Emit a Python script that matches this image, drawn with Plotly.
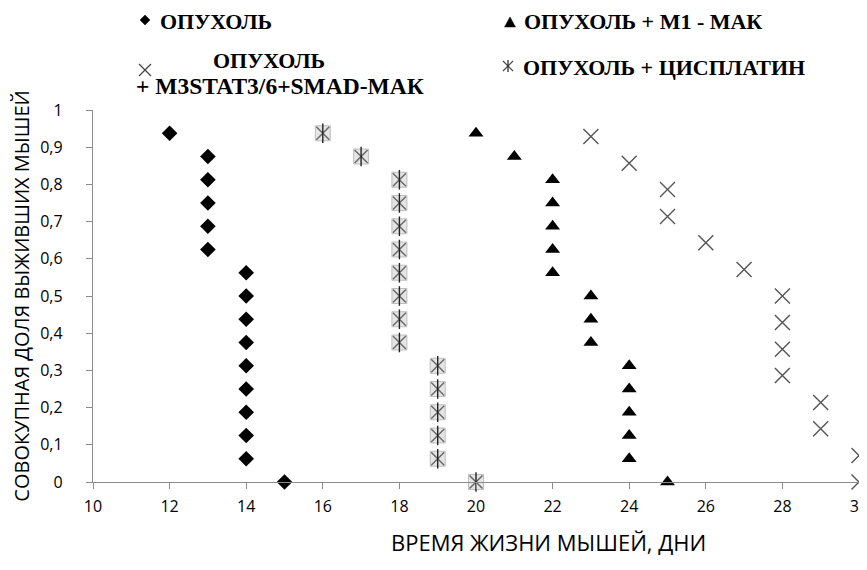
import plotly.graph_objects as go

# ---------------- data ----------------
tumor_days = [12, 13, 13, 13, 13, 13, 14, 14, 14, 14, 14, 14, 14, 14, 14, 15]
tumor_surv = [0.9375, 0.875, 0.8125, 0.75, 0.6875, 0.625, 0.5625, 0.5, 0.4375,
              0.375, 0.3125, 0.25, 0.1875, 0.125, 0.0625, 0.0]

m1_days = [20, 21, 22, 22, 22, 22, 22, 23, 23, 23, 24, 24, 24, 24, 24, 25]
m1_surv = [0.9375, 0.875, 0.8125, 0.75, 0.6875, 0.625, 0.5625, 0.5, 0.4375,
           0.375, 0.3125, 0.25, 0.1875, 0.125, 0.0625, 0.0]

m3_days = [23, 24, 25, 25, 26, 27, 28, 28, 28, 28, 29, 29, 30, 30]
m3_surv = [0.929, 0.857, 0.786, 0.714, 0.643, 0.571, 0.5, 0.429, 0.357,
           0.286, 0.214, 0.143, 0.071, 0.0]

cis_days = [16, 17, 18, 18, 18, 18, 18, 18, 18, 18, 19, 19, 19, 19, 19, 20]
cis_surv = [0.9375, 0.875, 0.8125, 0.75, 0.6875, 0.625, 0.5625, 0.5, 0.4375,
            0.375, 0.3125, 0.25, 0.1875, 0.125, 0.0625, 0.0]

legend_labels = ["ОПУХОЛЬ", "ОПУХОЛЬ + М1 - МАК",
                 "ОПУХОЛЬ", "+ M3STAT3/6+SMAD-МАК", "ОПУХОЛЬ + ЦИСПЛАТИН"]
x_title = "ВРЕМЯ ЖИЗНИ МЫШЕЙ, ДНИ"
y_title = "СОВОКУПНАЯ ДОЛЯ ВЫЖИВШИХ МЫШЕЙ"

# ---------------- geometry (page body has 8px offset) ----------------
OFF = 8
W, H = 867 - OFF, 570 - OFF
ML, MR, MT, MB = 93 - OFF, 8, 110 - OFF, 570 - 482
PW = W - ML - MR
PH = H - MT - MB


def px(xp):
    return (xp - OFF - ML) / PW


def py(yp):
    return (H - MB - (yp - OFF)) / PH


fig = go.Figure()

# Tumor: diamonds
fig.add_trace(go.Scatter(x=tumor_days, y=tumor_surv, mode="markers",
                         marker=dict(symbol="diamond", size=12, color="black"),
                         cliponaxis=False, showlegend=False))
# Cisplatin: boxed asterisk
fig.add_trace(go.Scatter(x=cis_days, y=cis_surv, mode="markers",
                         marker=dict(symbol="square", size=15, color="rgba(218,218,218,0.7)",
                                     line=dict(color="rgba(185,185,185,0.9)", width=1)),
                         cliponaxis=False, showlegend=False))
fig.add_trace(go.Scatter(x=cis_days, y=cis_surv, mode="markers",
                         marker=dict(symbol="x-thin-open", size=13, color="#6a6a6a",
                                     line=dict(color="#6a6a6a", width=1.5)),
                         cliponaxis=False, showlegend=False))
fig.add_trace(go.Scatter(x=cis_days, y=cis_surv, mode="markers",
                         marker=dict(symbol="line-ns-open", size=14, color="#222222",
                                     line=dict(color="#222222", width=1.4)),
                         cliponaxis=False, showlegend=False))
# M1: triangles
fig.add_trace(go.Scatter(x=m1_days, y=m1_surv, mode="markers",
                         marker=dict(symbol="triangle-up", size=13, color="black"),
                         cliponaxis=False, showlegend=False))
# M3: crosses
fig.add_trace(go.Scatter(x=m3_days, y=m3_surv, mode="markers",
                         marker=dict(symbol="x-thin-open", size=15, color="#555555",
                                     line=dict(color="#555555", width=1.4)),
                         cliponaxis=False, showlegend=False))

# ---------------- custom legend ----------------
shapes = []


def path_shape(pts, closed, fill, line_col, lw):
    d = "M " + " L ".join(f"{px(a):.5f},{py(b):.5f}" for a, b in pts)
    if closed:
        d += " Z"
    return dict(type="path", xref="paper", yref="paper", path=d,
                fillcolor=fill if fill else "rgba(0,0,0,0)",
                line=dict(color=line_col, width=lw), layer="above")


# diamond key
cx, cy, r = 145, 20, 5
shapes.append(path_shape([(cx, cy - r), (cx + r, cy), (cx, cy + r), (cx - r, cy)], True,
                         "black", "black", 0.5))
# triangle key
cx, cy = 510, 22
shapes.append(path_shape([(cx - 5.5, cy + 5), (cx + 5.5, cy + 5), (cx, cy - 5)], True,
                         "black", "black", 0.5))
# x key
cx, cy, r = 145, 70, 6
shapes.append(path_shape([(cx - r, cy - r), (cx + r, cy + r)], False, None, "#444444", 1.2))
shapes.append(path_shape([(cx - r, cy + r), (cx + r, cy - r)], False, None, "#444444", 1.2))
# asterisk key
cx, cy, r = 508, 66, 5
shapes.append(path_shape([(cx - r, cy - r), (cx + r, cy + r)], False, None, "#444444", 1.2))
shapes.append(path_shape([(cx - r, cy + r), (cx + r, cy - r)], False, None, "#444444", 1.2))
shapes.append(path_shape([(cx, cy - 6), (cx, cy + 6)], False, None, "#222222", 1.2))

leg_pos = [(158, 21), (522, 21), (211, 61), (134, 86), (521, 67)]
leg_size = [22, 22, 22, 23.5, 22]
annotations = []
for (ax_, ay_), lab, fs in zip(leg_pos, legend_labels, leg_size):
    annotations.append(dict(x=px(ax_), y=py(ay_), xref="paper", yref="paper",
                            text="<b>" + lab + "</b>", xanchor="left", yanchor="middle",
                            showarrow=False,
                            font=dict(family="Liberation Serif", size=fs, color="black")))

annotations.append(dict(x=px(548), y=py(542), xref="paper", yref="paper", text=x_title,
                        showarrow=False, xanchor="center", yanchor="middle",
                        font=dict(family="Open Sans", size=22, color="black")))

axis_col = "#8c8c8c"
fig.update_layout(
    width=W, height=H,
    margin=dict(l=ML, r=MR, t=MT, b=MB, pad=0, autoexpand=False),
    paper_bgcolor="white", plot_bgcolor="white",
    separators=", ",
    xaxis=dict(range=[10, 30], dtick=2, tick0=10, showgrid=False, zeroline=False,
               showline=True, linecolor=axis_col, linewidth=1.3,
               ticks="outside", ticklen=6, tickcolor=axis_col, tickwidth=1.3,
               ticklabelstandoff=4, ticklabeloverflow="allow", automargin=False,
               tickfont=dict(family="Open Sans", size=16, color="black")),
    yaxis=dict(range=[0, 1], dtick=0.1, showgrid=False, zeroline=False,
               showline=True, linecolor=axis_col, linewidth=1.3,
               ticks="outside", ticklen=6, tickcolor=axis_col, tickwidth=1.3,
               ticklabelstandoff=20, ticklabeloverflow="allow", automargin=False,
               tickfont=dict(family="Open Sans", size=16, color="black"),
               title=dict(text=y_title, standoff=6,
                          font=dict(family="Open Sans", size=20, color="black"))),
    annotations=annotations,
    shapes=shapes,
    showlegend=False,
)

fig.write_html("out.html")
